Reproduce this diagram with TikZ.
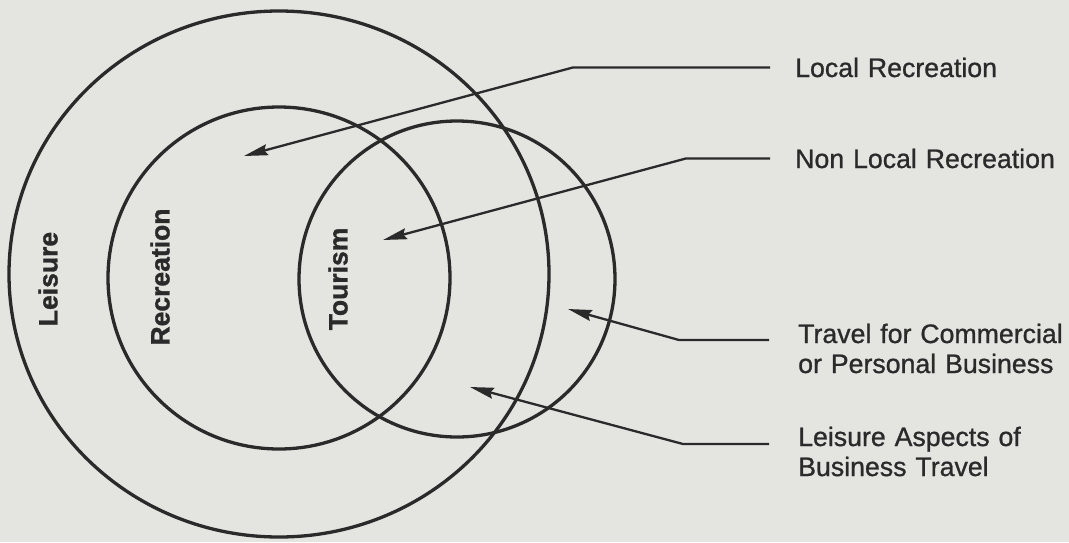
\documentclass[tikz,border=0pt]{standalone}
\usepackage{fontspec}
\setsansfont{Liberation Sans}
\newfontfamily\labelfont[FakeBold=0.9]{Liberation Sans}
\newfontfamily\setfont[FakeBold=1.2,BoldFont={Liberation Sans Bold}]{Liberation Sans Bold}
\usepackage{xcolor}
\definecolor{paper}{HTML}{E4E4E0}
\definecolor{ink}{HTML}{2A2A2A}
\usetikzlibrary{arrows.meta,positioning}

\begin{document}
\begin{tikzpicture}[x=1pt,y=-1pt,
  font=\labelfont\fontsize{26.7}{30}\selectfont,
  ring/.style={draw=ink,line width=3.3pt},
  setname/.style={font=\setfont\fontsize{26.5}{30}\selectfont,
    text=ink,rotate=90,inner sep=0pt},
  lbl/.style={text=ink,anchor=base west,text width=275pt,align=left,inner sep=0pt},
  arr/.style={-{Stealth[length=24pt,width=11pt,inset=3pt]},draw=ink,line width=2.3pt}]
\fill[paper] (0,0) rectangle (1069,542);
\useasboundingbox (0,0) rectangle (1069,542);
\draw[ring] (279,274) ellipse [x radius=270,y radius=263];
\draw[ring] (279,278) circle [radius=171];
\draw[ring] (457,279) circle [radius=158];
\node[setname] (leisure) at (48,279) {Leisure};
\node[setname] (recreation) at (160,277) {Recreation};
\node[setname] (tourism) at (338,279) {Tourism};
\coordinate (tipLocal) at (244,156);
\coordinate (tipNonLocal) at (383,240);
\coordinate (tipTravel) at (568,309);
\coordinate (tipAspects) at (470,387);
\node[lbl] (lblLocal) at (795,77) {Local Recreation};
\node[lbl] (lblNonLocal) at (795,168) {Non Local Recreation};
\node[lbl] (lblTravel) at (798,343) {Travel for Commercial\\or Personal Business};
\node[lbl] (lblAspects) at (798,446) {Leisure Aspects of\\Business Travel};
\draw[arr] ([xshift=-25pt]lblLocal.west) -- ++(-197,0) -- (tipLocal);
\draw[arr] ([xshift=-25pt]lblNonLocal.west) -- ++(-84,0) -- (tipNonLocal);
\draw[arr] ([shift={(-29,-3)}]lblTravel.base west) -- ++(-90,0) -- (tipTravel);
\draw[arr] ([shift={(-29,-2)}]lblAspects.base west) -- ++(-86,0) -- (tipAspects);
\end{tikzpicture}
\end{document}
